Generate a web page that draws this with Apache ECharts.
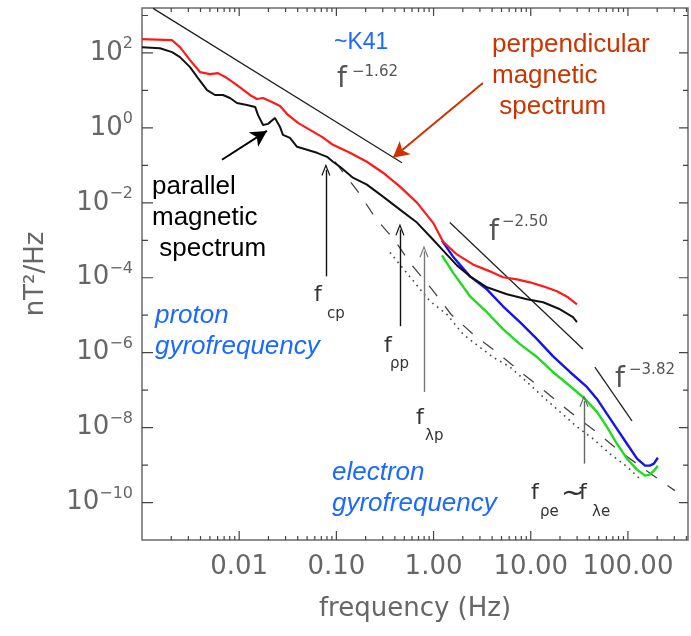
<!DOCTYPE html>
<html>
<head>
<meta charset="utf-8">
<title>Magnetic spectra</title>
<script src="https://cdn.jsdelivr.net/npm/echarts@6.0.0/dist/echarts.min.js"></script>
<style>
  html, body { margin: 0; padding: 0; background: #fff; }
  #chart { width: 691px; height: 636px; }
</style>
</head>
<body>
<div id="chart"></div>
<script>
// frequency in Hz, power in nT^2/Hz
const perpFreq = [0.001, 0.00204, 0.00246, 0.00312, 0.00395, 0.00501, 0.00605, 0.0075, 0.00949, 0.0129, 0.0152, 0.0176, 0.0217, 0.0263, 0.0318, 0.0403, 0.0535, 0.0711, 0.0922, 0.138, 0.206, 0.302, 0.451, 0.675, 0.986, 1.25, 1.74, 2.54, 3.80, 5.18, 7.21, 9.82, 13.4, 18.6, 24.2, 29.9];
const perpPower = [233, 219, 143, 64.4, 30.9, 27.3, 29.0, 21.4, 13.9, 7.55, 5.90, 6.28, 4.92, 3.85, 2.22, 1.36, 0.885, 0.576, 0.353, 0.216, 0.125, 0.0636, 0.0270, 0.0101, 0.00297, 9.29e-4, 4.19e-4, 2.27e-4, 1.48e-4, 1.03e-4, 9.06e-5, 7.55e-5, 5.90e-5, 4.35e-5, 3.01e-5, 1.96e-5];

const parFreq = [0.001, 0.00153, 0.00204, 0.00246, 0.00312, 0.00377, 0.00467, 0.00564, 0.00681, 0.00804, 0.00949, 0.0120, 0.0146, 0.0156, 0.0176, 0.0198, 0.0233, 0.0263, 0.0282, 0.0333, 0.0394, 0.0499, 0.0632, 0.0802, 0.0922, 0.109, 0.148, 0.206, 0.302, 0.451, 0.675, 0.986, 1.25, 1.74, 2.37, 3.54, 5.69, 9.14, 13.4, 20.0, 27.2, 29.9];
const parPower = [143, 134, 105, 77.3, 41.9, 21.4, 10.2, 7.55, 7.55, 6.28, 4.62, 4.09, 3.62, 2.22, 1.20, 1.28, 1.85, 1.06, 0.652, 0.542, 0.313, 0.260, 0.216, 0.169, 0.125, 0.0918, 0.0468, 0.0305, 0.0146, 0.00659, 0.00297, 0.00105, 5.36e-4, 2.14e-4, 1.09e-4, 5.56e-5, 3.62e-5, 2.67e-5, 2.22e-5, 1.44e-5, 8.85e-6, 6.52e-6];

const blueFreq = [1.22, 1.58, 2.37, 3.54, 5.18, 7.74, 11.6, 16.9, 25.3, 37.8, 48.0, 60.8, 77.1, 97.7, 124, 150, 168, 185, 203];
const bluePower = [9.88e-4, 3.71e-4, 1.09e-4, 4.91e-5, 1.73e-5, 6.52e-6, 2.30e-6, 8.12e-7, 3.05e-7, 1.22e-7, 5.83e-8, 2.33e-8, 9.29e-9, 3.71e-9, 1.48e-9, 9.64e-10, 9.64e-10, 1.09e-9, 1.57e-9];

const greenFreq = [1.22, 1.58, 2.37, 3.54, 5.18, 7.74, 11.6, 16.9, 25.3, 36.1, 48.0, 60.8, 77.1, 97.7, 124, 150, 168, 185, 203];
const greenPower = [3.94e-4, 1.39e-4, 3.20e-5, 1.20e-5, 4.25e-6, 1.69e-6, 7.64e-7, 3.05e-7, 1.29e-7, 5.83e-8, 2.63e-8, 1.05e-8, 3.71e-9, 1.48e-9, 7.55e-10, 5.22e-10, 5.56e-10, 7.10e-10, 9.64e-10];

const dashFreq = [0.0968, 0.167, 0.255, 0.392, 0.600, 0.963, 1.51, 2.61, 4.60, 8.11, 14.3, 25.3, 45.7, 80.7, 150, 304];
const dashPower = [0.125, 0.0199, 0.00380, 0.00105, 2.14e-4, 4.91e-5, 1.06e-5, 2.94e-6, 9.75e-7, 2.86e-7, 8.96e-8, 2.63e-8, 8.22e-9, 2.42e-9, 7.55e-10, 2.08e-10];

const dotFreq = [0.356, 0.545, 0.918, 1.37, 2.01, 2.80, 4.08, 6.11, 9.14, 13.4, 20.0, 29.9, 43.7, 65.3, 97.7, 139];
const dotPower = [4.74e-4, 1.23e-4, 2.36e-5, 1.06e-5, 3.12e-6, 1.59e-6, 7.64e-7, 4.14e-7, 1.65e-7, 6.59e-8, 2.63e-8, 1.05e-8, 5.04e-9, 2.01e-9, 9.06e-10, 3.85e-10];

// power law guide lines (end points)
const fit162Freq = [0.00130, 0.473];
const fit162Power = [1553, 0.117];
const fit250Freq = [1.47, 34.4];
const fit250Power = [0.00297, 1.25e-6];
const fit382Freq = [45.7, 110];
const fit382Power = [4.14e-7, 1.52e-8];

// vertical frequency markers: [freq, from power, to power, colour]
const freqMarkers = [
  [0.078, 1.09e-4, 0.0764, '#111'],
  [0.451, 5.09e-6, 0.00194, '#111'],
  [0.797, 8.96e-8, 5.04e-4, '#777'],
  [35.3, 1.09e-9, 5.16e-8, '#666']
];
// pointer arrows: [from f, from P, to f, to P, colour]
const pointers = [
  [3.22, 15.7, 0.382, 0.159, '#cc3300'],
  [0.00665, 0.141, 0.0193, 0.832, '#000']
];

const freqTicks = [0.01, 0.1, 1, 10, 100];
const powerTicks = [1e-10, 1e-8, 1e-6, 1e-4, 1e-2, 1, 1e2];
const powerMinorTicks = [1e-9, 1e-7, 1e-5, 1e-3, 1e-1, 10, 1e3];

const FMIN = 0.001, FMAX = 415, PMIN = 1e-11, PMAX = 1585;

const freqMinorTicks = [];
[0.001, 0.01, 0.1, 1, 10, 100].forEach(d => {
  for (let k = 2; k <= 9; k++) {
    if (d * k <= FMAX) freqMinorTicks.push(+(d * k).toPrecision(3));
  }
});

const W = 691, H = 636;
const GRID = { left: 142, right: 3, top: 8, bottom: 96 };
// pixels per decade, used only to turn tick lengths into axis units
const PPD_X = (W - GRID.left - GRID.right) / Math.log10(FMAX / FMIN);
const PPD_Y = (H - GRID.top - GRID.bottom) / Math.log10(PMAX / PMIN);

const zip = (a, b) => a.map((v, i) => [v, b[i]]);
const AXIS_COL = '#6a6a6a';
const TICK_COL = '#444';
const FONT = 'DejaVu Sans';

const xAxisOpt = {
  type: 'log', logBase: 10, min: FMIN, max: FMAX, position: 'bottom',
  axisLine: { show: false },
  axisTick: { show: false },
  axisLabel: {
    customValues: freqTicks, margin: 14, color: '#666', fontFamily: FONT, fontSize: 26,
    formatter: v => v.toFixed(2)
  },
  splitLine: { show: false },
  name: 'frequency (Hz)', nameLocation: 'middle', nameGap: 56,
  nameTextStyle: { color: '#666', fontFamily: FONT, fontSize: 26 }
};

const yAxisOpt = {
  type: 'log', logBase: 10, min: PMIN, max: PMAX, position: 'left',
  axisLine: { show: false },
  axisTick: { show: false },
  axisLabel: {
    customValues: powerTicks, margin: 9, align: 'right',
    formatter: v => {
      const e = Math.round(Math.log10(v));
      return '{b|10}{s|' + (e < 0 ? '\u2212' + (-e) : e) + '}';
    },
    rich: {
      b: { fontFamily: FONT, fontSize: 26, color: '#666' },
      s: { fontFamily: FONT, fontSize: 16, color: '#666', padding: [0, 0, 18, 0] }
    }
  },
  splitLine: { show: false },
  name: 'nT\u00b2/Hz', nameLocation: 'middle', nameGap: 93,
  nameTextStyle: { color: '#666', fontFamily: FONT, fontSize: 26 }
};

function lineSeries(name, f, p, color, width, type) {
  return {
    id: name, name, type: 'line', data: zip(f, p), showSymbol: false, symbol: 'none',
    lineStyle: { color, width, type: type || 'solid' }, silent: true, z: 3
  };
}

// inward frame ticks as broken line segments on the same log axes
function tickSeries(name, values, side, len) {
  const data = [];
  values.forEach(v => {
    if (side === 'bottom') data.push([v, PMIN], [v, PMIN * Math.pow(10, len / PPD_Y)], [v, '-']);
    else if (side === 'top') data.push([v, PMAX], [v, PMAX / Math.pow(10, len / PPD_Y)], [v, '-']);
    else if (side === 'left') data.push([FMIN, v], [FMIN * Math.pow(10, len / PPD_X), v], ['-', v]);
    else data.push([FMAX, v], [FMAX / Math.pow(10, len / PPD_X), v], ['-', v]);
  });
  return {
    id: name, type: 'line', data, showSymbol: false, symbol: 'none', connectNulls: false,
    silent: true, clip: false, z: 4, lineStyle: { color: TICK_COL, width: 1.2 }
  };
}

const chevron = 'path://M0,11 L5,0 L10,11 L8.8,11.4 L5,3 L1.2,11.4 Z';

const markData = [];
freqMarkers.forEach(m => {
  markData.push([
    { coord: [m[0], m[1]], symbol: 'none', lineStyle: { color: m[3], width: 1.4, type: 'solid' } },
    { coord: [m[0], m[2]], symbol: chevron, symbolSize: [9, 12] }
  ]);
});
pointers.forEach(m => {
  markData.push([
    { coord: [m[0], m[1]], symbol: 'none', lineStyle: { color: m[4], width: 2, type: 'solid' } },
    { coord: [m[2], m[3]], symbol: 'arrow', symbolSize: [13, 16] }
  ]);
});

const fit162 = lineSeries('f^-1.62', fit162Freq, fit162Power, '#222', 1.3);
fit162.markLine = {
  silent: true, animation: false, label: { show: false },
  emphasis: { disabled: true }, data: markData
};

const LS = 'Liberation Sans';
const notes = [
  // [text, x, y, size, colour, style, family]
  ['~K41', 334, 29, 23, '#1a6aff', 'normal', LS],
  ['perpendicular\nmagnetic\n spectrum', 492, 29, 26, '#cc3300', 'normal', LS],
  ['parallel\nmagnetic\n spectrum', 152, 171, 26, '#000', 'normal', LS],
  ['proton\ngyrofrequency', 155, 300, 26, '#1a6aff', 'italic', LS],
  ['electron\ngyrofrequency', 332, 457, 26, '#1a6aff', 'italic', LS],
  ['f', 337, 63, 28, '#555', 'normal', FONT],
  ['\u22121.62', 352, 63, 15, '#555', 'normal', FONT],
  ['f', 489, 216, 28, '#555', 'normal', FONT],
  ['\u22122.50', 502, 213, 15, '#555', 'normal', FONT],
  ['f', 615, 363, 28, '#555', 'normal', FONT],
  ['\u22123.82', 629, 361, 15, '#555', 'normal', FONT],
  ['f', 314, 282, 22, '#333', 'normal', FONT],
  ['cp', 327, 305, 15, '#333', 'normal', FONT],
  ['f', 384, 333, 22, '#333', 'normal', FONT],
  ['\u03c1p', 390, 355, 15, '#333', 'normal', FONT],
  ['f', 416, 405, 22, '#333', 'normal', FONT],
  ['\u03bbp', 425, 427, 15, '#333', 'normal', FONT],
  ['f', 531, 480, 22, '#333', 'normal', FONT],
  ['\u03c1e', 540, 503, 15, '#333', 'normal', FONT],
  ['~', 561, 478, 28, '#333', 'normal', FONT],
  ['f', 579, 480, 22, '#333', 'normal', FONT],
  ['\u03bbe', 592, 503, 15, '#333', 'normal', FONT]
];

const chart = echarts.init(document.getElementById('chart'));
chart.setOption({
  backgroundColor: '#fff',
  animation: false,
  grid: {
    left: GRID.left, right: GRID.right, top: GRID.top, bottom: GRID.bottom, containLabel: false,
    show: true, borderColor: AXIS_COL, borderWidth: 1.5
  },
  xAxis: xAxisOpt,
  yAxis: yAxisOpt,
  series: [
    tickSeries('ticks-bottom', freqTicks, 'bottom', 9),
    tickSeries('ticks-bottom-minor', freqMinorTicks, 'bottom', 4),
    tickSeries('ticks-top', freqTicks, 'top', 8),
    tickSeries('ticks-top-minor', freqMinorTicks, 'top', 4),
    tickSeries('ticks-left', powerTicks, 'left', 11),
    tickSeries('ticks-left-minor', powerMinorTicks, 'left', 6),
    tickSeries('ticks-right', powerTicks, 'right', 9),
    tickSeries('ticks-right-minor', powerMinorTicks, 'right', 5),
    lineSeries('model (dashed)', dashFreq, dashPower, '#444', 1.3, [13, 13]),
    lineSeries('model (dotted)', dotFreq, dotPower, '#444', 1.6, [1.6, 4.4]),
    fit162,
    lineSeries('f^-2.50', fit250Freq, fit250Power, '#222', 1.3),
    lineSeries('f^-3.82', fit382Freq, fit382Power, '#222', 1.3),
    lineSeries('green', greenFreq, greenPower, '#1fdc1f', 2.4),
    lineSeries('blue', blueFreq, bluePower, '#1414f0', 2.4),
    lineSeries('parallel', parFreq, parPower, '#111', 2),
    lineSeries('perpendicular', perpFreq, perpPower, '#ff1a1a', 2.2)
  ],
  graphic: notes.map(n => ({
    type: 'text', x: n[1], y: n[2], silent: true, z: 10,
    style: {
      text: n[0], fill: n[4], fontSize: n[3], fontFamily: n[6], fontStyle: n[5],
      lineHeight: Math.round(n[3] * 1.2), verticalAlign: 'top', align: 'left'
    }
  }))
});
</script>
</body>
</html>
